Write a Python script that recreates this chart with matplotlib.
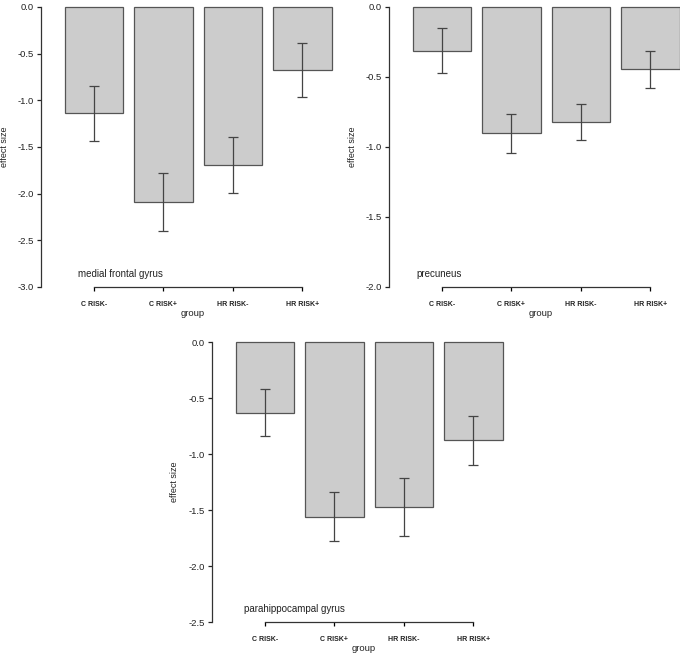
import numpy as np
import matplotlib
matplotlib.use('Agg')
import matplotlib.pyplot as plt

plt.rcParams['font.family'] = ['Liberation Sans', 'DejaVu Sans']
plt.rcParams['axes.unicode_minus'] = False

groups = ['C RISK-', 'C RISK+', 'HR RISK-', 'HR RISK+']

# effect sizes and error (half length of error bar)
mfg_mean = [-1.14, -2.09, -1.69, -0.675]
mfg_err = [0.295, 0.315, 0.30, 0.29]
prec_mean = [-0.312, -0.902, -0.821, -0.445]
prec_err = [0.161, 0.138, 0.128, 0.131]
phg_mean = [-0.631, -1.56, -1.473, -0.878]
phg_err = [0.21, 0.22, 0.26, 0.218]

titles = ['medial frontal gyrus', 'precuneus', 'parahippocampal gyrus']
ymins = [-3.0, -2.0, -2.5]

W, H = 680, 654
fig = plt.figure(figsize=(W / 100, H / 100), dpi=100)


def panel(left_px, bottom_px, mean, err, title, ymin, title_x, ylab_x):
    ax = fig.add_axes([left_px / W, (H - bottom_px) / H, 291 / W, 280 / H])
    x = np.arange(len(groups))
    ax.bar(x, mean, width=0.84, color='#cccccc', edgecolor='#555555', linewidth=0.9,
           clip_on=False)
    ax.errorbar(x, mean, yerr=err, fmt='none', ecolor='#444444', elinewidth=0.9,
                capsize=3.5, capthick=0.9, clip_on=False)
    ax.set_xlim(-0.76, -0.76 + 291 / 69.5)
    ax.set_ylim(ymin, 0)
    ax.set_yticks(np.arange(0, ymin - 0.01, -0.5))
    ax.yaxis.set_major_formatter(matplotlib.ticker.FormatStrFormatter('%.1f'))
    ax.set_xticks(x)
    ax.set_xticklabels(groups, fontsize=5, fontweight='bold', color='#222222')
    ax.tick_params(axis='y', labelsize=6.8, length=3, width=0.9, pad=2, colors='#222222')
    ax.tick_params(axis='x', length=3, width=0.9, pad=7)
    for s in ['top', 'right']:
        ax.spines[s].set_visible(False)
    ax.spines['left'].set_linewidth(0.9)
    ax.spines['bottom'].set_linewidth(0.9)
    ax.spines['left'].set_color('#333333')
    ax.spines['bottom'].set_color('#333333')
    ax.spines['bottom'].set_bounds(0, 3)
    ax.set_ylabel('effect size', fontsize=6.5, color='#222222')
    ax.yaxis.set_label_coords(ylab_x, 0.5)
    ax.set_xlabel('group', fontsize=6.8, color='#222222')
    ax.xaxis.set_label_coords(0.52, -0.079)
    ax.text(title_x, 0.048, title, transform=ax.transAxes, fontsize=7,
            ha='left', va='center', color='#222222')
    return ax


panel(41, 287, mfg_mean, mfg_err, titles[0], ymins[0], 0.127, -0.11)
panel(389, 287, prec_mean, prec_err, titles[1], ymins[1], 0.093, -0.11)
panel(212, 622, phg_mean, phg_err, titles[2], ymins[2], 0.11, -0.113)

fig.savefig('out.png', dpi=100)
